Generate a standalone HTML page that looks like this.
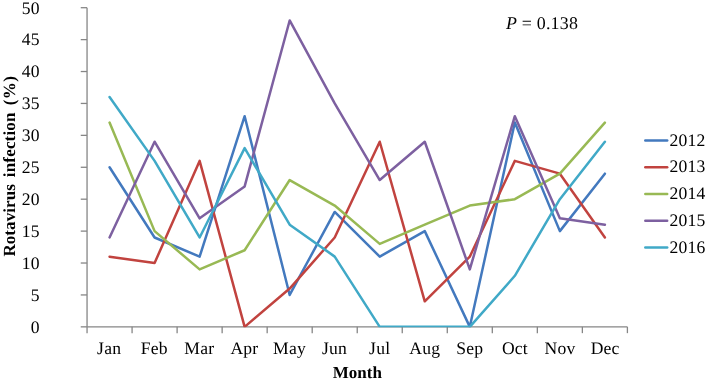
<!DOCTYPE html>
<html><head><meta charset="utf-8"><title>Rotavirus infection by month</title>
<style>html,body{margin:0;padding:0;background:#fff}body{width:708px;height:381px;overflow:hidden}</style></head>
<body>
<svg width="708" height="381" viewBox="0 0 708 381" style="display:block;text-rendering:geometricPrecision;font-family:'Liberation Serif',serif">
<rect width="708" height="381" fill="#fff"/>
<g stroke="#868686" stroke-width="1.3" fill="none">
<line x1="87.05" y1="7.7" x2="87.05" y2="326.85"/>
<line x1="87.05" y1="326.85" x2="627.4" y2="326.85"/>
<line x1="80.75" y1="326.85" x2="87.05" y2="326.85"/>
<line x1="80.75" y1="294.94" x2="87.05" y2="294.94"/>
<line x1="80.75" y1="263.02" x2="87.05" y2="263.02"/>
<line x1="80.75" y1="231.11" x2="87.05" y2="231.11"/>
<line x1="80.75" y1="199.19" x2="87.05" y2="199.19"/>
<line x1="80.75" y1="167.28" x2="87.05" y2="167.28"/>
<line x1="80.75" y1="135.36" x2="87.05" y2="135.36"/>
<line x1="80.75" y1="103.44" x2="87.05" y2="103.44"/>
<line x1="80.75" y1="71.53" x2="87.05" y2="71.53"/>
<line x1="80.75" y1="39.62" x2="87.05" y2="39.62"/>
<line x1="80.75" y1="7.70" x2="87.05" y2="7.70"/>
<line x1="87.05" y1="326.85" x2="87.05" y2="333.15"/>
<line x1="132.08" y1="326.85" x2="132.08" y2="333.15"/>
<line x1="177.11" y1="326.85" x2="177.11" y2="333.15"/>
<line x1="222.14" y1="326.85" x2="222.14" y2="333.15"/>
<line x1="267.17" y1="326.85" x2="267.17" y2="333.15"/>
<line x1="312.20" y1="326.85" x2="312.20" y2="333.15"/>
<line x1="357.23" y1="326.85" x2="357.23" y2="333.15"/>
<line x1="402.25" y1="326.85" x2="402.25" y2="333.15"/>
<line x1="447.28" y1="326.85" x2="447.28" y2="333.15"/>
<line x1="492.31" y1="326.85" x2="492.31" y2="333.15"/>
<line x1="537.34" y1="326.85" x2="537.34" y2="333.15"/>
<line x1="582.37" y1="326.85" x2="582.37" y2="333.15"/>
<line x1="627.40" y1="326.85" x2="627.40" y2="333.15"/>
</g>
<defs><clipPath id="plot"><rect x="0" y="0" width="708" height="327.35"/></clipPath></defs>
<g clip-path="url(#plot)">
<polyline points="109.56,167.28 154.59,237.49 199.62,256.64 244.65,116.21 289.68,294.94 334.71,211.96 379.74,256.64 424.77,231.11 469.80,326.85 514.83,122.59 559.86,231.11 604.89,173.66" fill="none" stroke="#4379be" stroke-width="2.5" stroke-linejoin="round" stroke-linecap="round"/>
<polyline points="109.56,256.64 154.59,263.02 199.62,160.89 244.65,326.85 289.68,288.55 334.71,237.49 379.74,141.74 424.77,301.32 469.80,256.64 514.83,160.89 559.86,173.66 604.89,237.49" fill="none" stroke="#c1433f" stroke-width="2.5" stroke-linejoin="round" stroke-linecap="round"/>
<polyline points="109.56,122.59 154.59,231.11 199.62,269.40 244.65,250.25 289.68,180.04 334.71,205.57 379.74,243.87 424.77,224.72 469.80,205.57 514.83,199.19 559.86,173.66 604.89,122.59" fill="none" stroke="#98b954" stroke-width="2.5" stroke-linejoin="round" stroke-linecap="round"/>
<polyline points="109.56,237.49 154.59,141.74 199.62,218.34 244.65,186.42 289.68,20.47 334.71,103.44 379.74,180.04 424.77,141.74 469.80,269.40 514.83,116.21 559.86,218.34 604.89,224.72" fill="none" stroke="#7d60a0" stroke-width="2.5" stroke-linejoin="round" stroke-linecap="round"/>
<polyline points="109.56,97.06 154.59,160.89 199.62,237.49 244.65,148.13 289.68,224.72 334.71,256.64 379.74,326.85 424.77,326.85 469.80,326.85 514.83,275.79 559.86,199.19 604.89,141.74" fill="none" stroke="#40a9c7" stroke-width="2.5" stroke-linejoin="round" stroke-linecap="round"/>
</g>
<g font-size="17.6" letter-spacing="0.2" fill="#000" text-anchor="end">
<text x="39.75" y="332.65">0</text>
<text x="39.75" y="300.74">5</text>
<text x="39.75" y="268.82">10</text>
<text x="39.75" y="236.91">15</text>
<text x="39.75" y="204.99">20</text>
<text x="39.75" y="173.08">25</text>
<text x="39.75" y="141.16">30</text>
<text x="39.75" y="109.24">35</text>
<text x="39.75" y="77.33">40</text>
<text x="39.75" y="45.42">45</text>
<text x="39.75" y="13.50">50</text>
</g>
<g font-size="17.6" letter-spacing="0.2" fill="#000" text-anchor="middle">
<text x="109.13" y="353.9">Jan</text>
<text x="154.22" y="353.9">Feb</text>
<text x="199.31" y="353.9">Mar</text>
<text x="244.40" y="353.9">Apr</text>
<text x="289.49" y="353.9">May</text>
<text x="334.58" y="353.9">Jun</text>
<text x="379.67" y="353.9">Jul</text>
<text x="424.76" y="353.9">Aug</text>
<text x="469.85" y="353.9">Sep</text>
<text x="514.94" y="353.9">Oct</text>
<text x="560.03" y="353.9">Nov</text>
<text x="605.12" y="353.9">Dec</text>
</g>
<text x="357.4" y="377.9" font-size="17" font-weight="bold" text-anchor="middle">Month</text>
<text transform="translate(14.6,0) rotate(-90)" font-size="17" font-weight="bold"><tspan x="-256.6" letter-spacing="0.08">Rotavirus </tspan><tspan x="-177.2" letter-spacing="0.17">infection </tspan><tspan x="-105.3" letter-spacing="0.5">(%)</tspan></text>
<text x="506" y="29.3" font-size="17.9" letter-spacing="0.2"><tspan font-style="italic">P</tspan> = 0.138</text>
<line x1="645.3" y1="140.50" x2="667.2" y2="140.50" stroke="#4379be" stroke-width="2.5" stroke-linecap="round"/>
<text x="669.6" y="145.60" font-size="17.6" letter-spacing="0.2">2012</text>
<line x1="645.3" y1="167.28" x2="667.2" y2="167.28" stroke="#c1433f" stroke-width="2.5" stroke-linecap="round"/>
<text x="669.6" y="172.38" font-size="17.6" letter-spacing="0.2">2013</text>
<line x1="645.3" y1="194.06" x2="667.2" y2="194.06" stroke="#98b954" stroke-width="2.5" stroke-linecap="round"/>
<text x="669.6" y="199.16" font-size="17.6" letter-spacing="0.2">2014</text>
<line x1="645.3" y1="220.84" x2="667.2" y2="220.84" stroke="#7d60a0" stroke-width="2.5" stroke-linecap="round"/>
<text x="669.6" y="225.94" font-size="17.6" letter-spacing="0.2">2015</text>
<line x1="645.3" y1="247.62" x2="667.2" y2="247.62" stroke="#40a9c7" stroke-width="2.5" stroke-linecap="round"/>
<text x="669.6" y="252.72" font-size="17.6" letter-spacing="0.2">2016</text>
</svg>
</body></html>
